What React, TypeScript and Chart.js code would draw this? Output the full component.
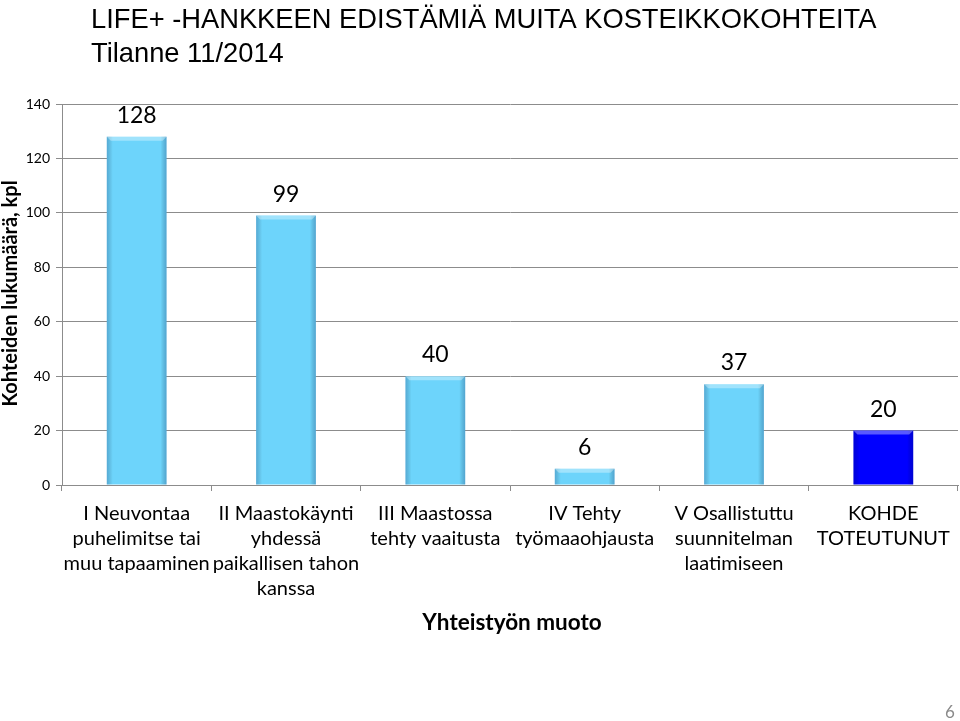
import React, { useEffect, useRef } from "react";
import { Chart, registerables } from "chart.js";

Chart.register(...registerables);

const titleLines = ["LIFE+ -HANKKEEN EDISTÄMIÄ MUITA KOSTEIKKOKOHTEITA", "Tilanne 11/2014"];
const categories: string[][] = [
  ["I Neuvontaa", "puhelimitse tai", "muu tapaaminen"],
  ["II Maastokäynti", "yhdessä", "paikallisen tahon", "kanssa"],
  ["III Maastossa", "tehty vaaitusta"],
  ["IV Tehty", "työmaaohjausta"],
  ["V Osallistuttu", "suunnitelman", "laatimiseen"],
  ["KOHDE", "TOTEUTUNUT"],
];
const values = [128, 99, 40, 6, 37, 20];
const barColors = ["#6DD4FB", "#6DD4FB", "#6DD4FB", "#6DD4FB", "#6DD4FB", "#0000FF"];
const yMin = 0;
const yMax = 140;
const yStep = 20;
const yTitle = "Kohteiden lukumäärä, kpl";
const xTitle = "Yhteistyön muoto";
const pageNumber = "6";

const FONT = "Lato, 'Open Sans', sans-serif";

const decorPlugin = {
  id: "decor",
  afterDatasetsDraw(chart: any) {
    const ctx = chart.ctx as CanvasRenderingContext2D;
    const meta = chart.getDatasetMeta(0);
    ctx.save();
    meta.data.forEach((bar: any, i: number) => {
      const { x, y, width, base } = bar.getProps(["x", "y", "width", "base"], true);
      const left = x - width / 2;
      const h = base - y;
      const g = ctx.createLinearGradient(left, 0, left + width, 0);
      g.addColorStop(0, "rgba(0,20,80,0.22)");
      g.addColorStop(0.1, "rgba(0,0,0,0)");
      g.addColorStop(0.9, "rgba(0,0,0,0)");
      g.addColorStop(1, "rgba(0,20,80,0.25)");
      ctx.fillStyle = g;
      ctx.fillRect(left, y, width, h);
      if (h > 6) {
        ctx.fillStyle = "rgba(255,255,255,0.35)";
        ctx.beginPath();
        ctx.moveTo(left, y);
        ctx.lineTo(left + width, y);
        ctx.lineTo(left + width - 4, y + 4);
        ctx.lineTo(left + 4, y + 4);
        ctx.closePath();
        ctx.fill();
      }
      ctx.fillStyle = "#000";
      ctx.font = `23px ${FONT}`;
      ctx.textAlign = "center";
      ctx.textBaseline = "alphabetic";
      ctx.fillText(String(values[i]), x, y - 14);
    });
    ctx.restore();
  },
  afterDraw(chart: any) {
    const ctx = chart.ctx as CanvasRenderingContext2D;
    const area = chart.chartArea;
    ctx.save();
    // title
    ctx.fillStyle = "#000";
    ctx.font = "27.3px 'Liberation Sans', Arial, sans-serif";
    ctx.textAlign = "left";
    ctx.textBaseline = "alphabetic";
    ctx.fillText(titleLines[0], 91, 28);
    ctx.fillText(titleLines[1], 91, 62);
    // y title
    ctx.save();
    ctx.translate(11, (area.top + area.bottom) / 2 - 1);
    ctx.rotate(-Math.PI / 2);
    ctx.font = `bold 20px ${FONT}`;
    ctx.textAlign = "center";
    ctx.textBaseline = "middle";
    ctx.fillText(yTitle, 0, 0);
    ctx.restore();
    // x title
    ctx.font = `bold 22.5px ${FONT}`;
    ctx.textAlign = "center";
    ctx.textBaseline = "middle";
    ctx.fillText(xTitle, 512, 623);
    // page number
    ctx.fillStyle = "#8a8a8a";
    ctx.font = `17px ${FONT}`;
    ctx.fillText(pageNumber, 950, 713);
    ctx.restore();
  },
};

export default function App() {
  const ref = useRef<HTMLCanvasElement>(null);
  useEffect(() => {
    if (!ref.current) return;
    const chart = new Chart(ref.current, {
      type: "bar",
      data: {
        labels: categories,
        datasets: [
          {
            data: values,
            backgroundColor: barColors,
            borderWidth: 0,
            barPercentage: 0.4,
            categoryPercentage: 1,
          },
        ],
      },
      options: {
        responsive: false,
        animation: false,
        layout: { padding: { top: 104, right: 2, bottom: 0, left: 0 } },
        plugins: { legend: { display: false }, tooltip: { enabled: false }, title: { display: false } },
        scales: {
          x: {
            grid: { drawOnChartArea: false, drawTicks: true, tickLength: 6, color: "#8c8c8c", offset: true },
            border: { display: true, color: "#8c8c8c" },
            ticks: {
              color: "#000",
              font: { family: FONT, size: 20, lineHeight: 25 / 20 } as any,
              maxRotation: 0,
              minRotation: 0,
              autoSkip: false,
              padding: 10,
            },
            afterFit(scale: any) {
              scale.height = 236;
            },
          },
          y: {
            min: yMin,
            max: yMax,
            grid: { color: "#8c8c8c", tickLength: 6, drawTicks: true },
            border: { display: true, color: "#8c8c8c" },
            ticks: {
              stepSize: yStep,
              color: "#000",
              font: { family: FONT, size: 14 },
              padding: 6,
            },
            afterFit(scale: any) {
              scale.width = 62;
            },
          },
        },
      },
      plugins: [decorPlugin],
    });
    return () => chart.destroy();
  }, []);
  return (
    <div style={{ position: "fixed", left: 0, top: 0, width: 960, height: 721, background: "#fff" }}>
      <canvas ref={ref} width={960} height={721} />
    </div>
  );
}
